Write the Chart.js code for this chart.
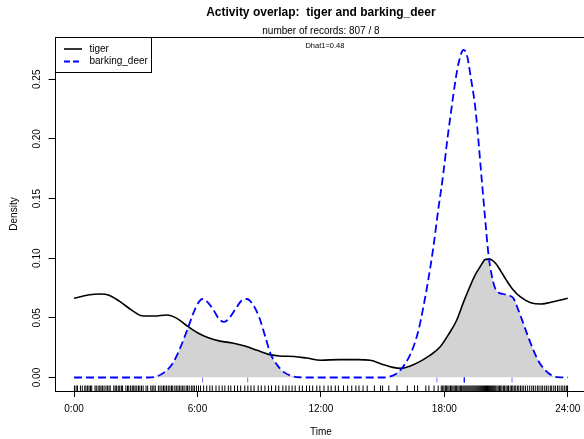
<!DOCTYPE html>
<html>
<head>
<meta charset="utf-8">
<script src="https://cdn.jsdelivr.net/npm/chart.js@4.4.1/dist/chart.umd.min.js"></script>
<style>
  html, body { margin: 0; padding: 0; background: #fff; overflow: hidden; width: 584px; height: 439px; }
  #wrap { position: relative; width: 592px; height: 439px; }
</style>
</head>
<body>
<div id="wrap"><canvas id="c" width="592" height="439"></canvas></div>
<script>
// Kernel density of activity by time of day (hours)
const tigerHours = [0, 0.5, 1.0, 1.3, 1.7, 2.2, 2.8, 3.3, 3.9, 4.5, 5.0, 5.5, 6.0, 6.5, 7.1, 7.7, 8.3, 8.9, 9.5, 10.0,
  10.7, 11.3, 12.0, 12.9, 13.8, 14.4, 15.0, 15.5, 15.9, 16.4, 16.8, 17.3, 17.8, 18.2, 18.6, 18.95, 19.25, 19.5, 19.75, 20.0,
  20.2, 20.5, 20.75, 21.0, 21.3, 21.7, 22.2, 22.7, 23.3, 24.0];
const tigerDensity = [0.0664, 0.0685, 0.0698, 0.0700, 0.0690, 0.0640, 0.0565, 0.0518, 0.0515, 0.0524, 0.0496, 0.0432, 0.0375, 0.0335, 0.0305, 0.0290, 0.0265, 0.0228, 0.0192, 0.0180,
  0.0176, 0.0163, 0.0145, 0.0150, 0.0150, 0.0145, 0.0110, 0.0085, 0.0077, 0.0100, 0.0133, 0.0185, 0.0258, 0.0360, 0.0480, 0.0640, 0.0765, 0.0860, 0.0930, 0.0990,
  0.0992, 0.0955, 0.0890, 0.0820, 0.0745, 0.0675, 0.0627, 0.0616, 0.0635, 0.0664];

const deerHours = [0, 3.6, 4.0, 4.4, 4.8, 5.2, 5.56, 5.9, 6.24, 6.5, 6.8, 7.05, 7.3, 7.55, 7.85, 8.15, 8.4, 8.7, 9.0, 9.3,
  9.55, 9.85, 10.2, 10.6, 11.0, 11.5, 15.0, 15.35, 15.65, 15.95, 16.25, 16.5, 16.75, 16.98, 17.2, 17.47, 17.7, 17.95, 18.15, 18.36,
  18.55, 18.7, 18.93, 19.1, 19.3, 19.5, 19.65, 19.82, 20.0, 20.14, 20.3, 20.47, 20.65, 20.87, 21.1, 21.36, 21.6, 21.84, 22.1, 22.33,
  22.6, 22.9, 23.2, 23.5, 24.0];
const deerDensity = [0, 0, 0.0008, 0.0045, 0.0120, 0.0265, 0.0426, 0.0580, 0.0658, 0.0630, 0.0560, 0.0490, 0.0466, 0.0500, 0.0575, 0.0645, 0.0658, 0.0610, 0.0505, 0.0340,
  0.0200, 0.0110, 0.0045, 0.0012, 0.0002, 0, 0, 0.0008, 0.0030, 0.0080, 0.0160, 0.0258, 0.0400, 0.0590, 0.0800, 0.1096, 0.1400, 0.1710, 0.2000, 0.2270,
  0.2500, 0.2640, 0.2745, 0.2700, 0.2500, 0.2270, 0.2000, 0.1655, 0.1300, 0.1040, 0.0860, 0.0748, 0.0710, 0.0700, 0.0690, 0.0664, 0.0565, 0.0454, 0.0330, 0.0230,
  0.0130, 0.0063, 0.0020, 0.0003, 0];

// Individual record times (hours) shown as rug marks
const tigerRecords = [0.02, 0.1, 0.17, 0.31, 0.4, 0.52, 0.58, 0.66, 0.73, 0.8, 0.86, 1.02, 1.08, 1.17, 1.25, 1.31, 1.38, 1.46, 1.55, 1.62,
  1.7, 1.76, 1.93, 2.0, 2.07, 2.15, 2.22, 2.3, 2.36, 2.52, 2.6, 2.66, 2.75, 2.83, 2.9, 2.97, 3.05, 3.13, 3.2, 3.28,
  3.36, 3.5, 3.58, 3.73, 3.8, 3.88, 3.95, 4.1, 4.18, 4.27, 4.35, 4.42, 4.5, 4.58, 4.66, 4.74, 4.8, 4.9, 4.97, 5.05,
  5.12, 5.2, 5.28, 5.35, 5.45, 5.52, 5.6, 5.7, 5.78, 5.85, 5.95, 6.05, 6.15, 6.3, 6.45, 6.6, 6.72, 6.9, 7.05, 7.2,
  7.33, 7.5, 7.62, 7.8, 7.95, 8.1, 8.3, 8.45, 8.6, 8.75, 8.95, 9.1, 9.28, 9.45, 9.6, 9.8, 9.95, 10.15, 10.3, 10.45,
  10.6, 10.75, 10.95, 11.1, 11.3, 11.45, 11.6, 11.8, 11.95, 12.15, 12.35, 12.5, 12.7, 12.85, 13.1, 13.3, 13.5, 13.7, 13.85, 14.05,
  14.25, 14.6, 14.9, 15.0, 15.3, 15.7, 16.2, 16.55, 16.7, 17.1, 17.25, 17.5, 17.7, 17.85, 17.92, 17.98, 18.05, 18.1, 18.17, 18.23,
  18.3, 18.36, 18.42, 18.48, 18.55, 18.6, 18.66, 18.72, 18.78, 18.83, 18.9, 18.95, 19.0, 19.05, 19.1, 19.15, 19.2, 19.25, 19.3, 19.35,
  19.4, 19.45, 19.5, 19.55, 19.6, 19.65, 19.7, 19.75, 19.8, 19.85, 19.9, 19.95, 20.0, 20.05, 20.1, 20.15, 20.2, 20.25, 20.3, 20.35,
  20.4, 20.45, 20.5, 20.56, 20.62, 20.68, 20.74, 20.8, 20.87, 20.93, 21.0, 21.06, 21.12, 21.2, 21.27, 21.33, 21.4, 21.47, 21.55, 21.62,
  21.7, 21.78, 21.86, 21.95, 22.05, 22.15, 22.25, 22.33, 22.42, 22.52, 22.6, 22.7, 22.78, 22.88, 22.96, 23.05, 23.15, 23.22, 23.32, 23.4,
  23.5, 23.58, 23.68, 23.76, 23.85, 23.93, 23.99];
const deerRecords = [6.25, 8.44, 17.64, 18.97, 18.97, 18.97, 18.97, 21.29];

const xTickValues = [0, 6, 12, 18, 24];
const xTickLabels = ['0:00', '6:00', '12:00', '18:00', '24:00'];
const yTickValues = [0, 0.05, 0.10, 0.15, 0.20, 0.25];
const yTickLabels = ['0.00', '0.05', '0.10', '0.15', '0.20', '0.25'];
const seriesNames = ['tiger', 'barking_deer'];
const titleText = 'Activity overlap:  tiger and barking_deer';
const subtitleText = 'number of records: 807 / 8';
const overlapText = 'Dhat1=0.48';
const xTitle = 'Time';
const yTitle = 'Density';

const FONT = '"Liberation Sans", Arial, Helvetica, sans-serif';
const BLUE = '#0000ff';
const DASH = [8, 4];
Chart.defaults.font.family = FONT;

const toPoints = (xs, ys) => xs.map((x, i) => ({ x, y: ys[i] }));

// Shaded overlap (area under both curves), rug marks, frame, legend and labels
const decorations = {
  id: 'decorations',
  beforeDatasetsDraw(chart) {
    const { ctx, chartArea: a } = chart;
    const y0 = chart.scales.y.getPixelForValue(0);
    const lines = [chart.getDatasetMeta(0).dataset, chart.getDatasetMeta(1).dataset];
    lines.forEach(l => l.updateControlPoints(a, 'x'));
    const area = (line) => {
      const pts = line.points;
      ctx.beginPath();
      line.path(ctx);
      ctx.lineTo(pts[pts.length - 1].x, y0);
      ctx.lineTo(pts[0].x, y0);
      ctx.closePath();
    };
    ctx.save();
    ctx.beginPath();
    ctx.rect(a.left, a.top, a.width, a.height);
    ctx.clip();
    area(lines[0]);
    ctx.clip();
    area(lines[1]);
    ctx.fillStyle = '#d3d3d3';
    ctx.fill();
    ctx.restore();
  },
  afterDatasetsDraw(chart) {
    const { ctx, chartArea: a, scales: { x, y } } = chart;
    const y0 = y.getPixelForValue(0);
    ctx.save();
    ctx.lineWidth = 1;
    ctx.strokeStyle = '#000';
    tigerRecords.forEach(t => {
      const px = x.getPixelForValue(t);
      ctx.beginPath();
      ctx.moveTo(px, a.bottom);
      ctx.lineTo(px, a.bottom - 5.5);
      ctx.stroke();
    });
    ctx.strokeStyle = 'rgba(0,0,255,0.55)';
    deerRecords.forEach(t => {
      const px = x.getPixelForValue(t);
      ctx.beginPath();
      ctx.moveTo(px, y0);
      ctx.lineTo(px, y0 + 5);
      ctx.stroke();
    });
    ctx.restore();
  },
  afterDraw(chart) {
    const { ctx, chartArea: a } = chart;
    const cx = (a.left + a.right) / 2;
    ctx.save();
    // plot frame
    ctx.strokeStyle = '#000';
    ctx.lineWidth = 1;
    ctx.strokeRect(Math.round(a.left) + 0.5, Math.round(a.top) + 0.5, a.width, Math.round(a.bottom) - Math.round(a.top));

    ctx.fillStyle = '#000';
    ctx.textAlign = 'center';
    ctx.textBaseline = 'middle';
    ctx.font = 'bold 12px ' + FONT;
    ctx.fillText(titleText, cx, 12.5);
    ctx.font = '10px ' + FONT;
    ctx.fillText(subtitleText, cx, 31);
    ctx.font = '7.5px ' + FONT;
    ctx.fillText(overlapText, cx + 4, 46);
    ctx.font = '10px ' + FONT;
    ctx.fillText(xTitle, cx, 432);
    ctx.save();
    ctx.translate(14, (a.top + a.bottom) / 2);
    ctx.rotate(-Math.PI / 2);
    ctx.fillText(yTitle, 0, 0);
    ctx.restore();

    // legend
    const lx = Math.round(a.left) + 0.5, ly = Math.round(a.top) + 0.5;
    ctx.fillStyle = '#fff';
    ctx.fillRect(lx, ly, 96, 35);
    ctx.strokeStyle = '#000';
    ctx.strokeRect(lx, ly, 96, 35);
    const rows = [{ y: ly + 11.5, color: '#000', dash: [], w: 1.6 }, { y: ly + 24, color: BLUE, dash: [6, 3], w: 1.8 }];
    rows.forEach((r, i) => {
      ctx.beginPath();
      ctx.setLineDash(r.dash);
      ctx.strokeStyle = r.color;
      ctx.lineWidth = r.w;
      ctx.moveTo(lx + 8.5, r.y);
      ctx.lineTo(lx + 26.5, r.y);
      ctx.stroke();
      ctx.setLineDash([]);
      ctx.fillStyle = '#000';
      ctx.textAlign = 'left';
      ctx.font = '10px ' + FONT;
      ctx.fillText(seriesNames[i], lx + 34, r.y);
    });
    ctx.restore();
  }
};

new Chart(document.getElementById('c'), {
  type: 'line',
  data: {
    datasets: [
      {
        label: seriesNames[0],
        data: toPoints(tigerHours, tigerDensity),
        borderColor: '#000',
        borderWidth: 1.6,
        fill: false,
        cubicInterpolationMode: 'monotone',
        pointRadius: 0,
        order: 1
      },
      {
        label: seriesNames[1],
        data: toPoints(deerHours, deerDensity),
        borderColor: BLUE,
        borderWidth: 1.8,
        borderDash: DASH,
        fill: false,
        cubicInterpolationMode: 'monotone',
        pointRadius: 0,
        order: 0
      }
    ]
  },
  options: {
    responsive: false,
    animation: false,
    devicePixelRatio: 1,
    layout: { padding: { top: 37, right: 4.7, left: 0, bottom: 0 } },
    plugins: { legend: { display: false }, title: { display: false }, tooltip: { enabled: false } },
    elements: { point: { radius: 0 } },
    scales: {
      x: {
        type: 'linear',
        min: -0.95,
        max: 24.95,
        afterFit(s) { s.height = 48; },
        afterBuildTicks(s) { s.ticks = xTickValues.map(v => ({ value: v })); },
        grid: { display: true, drawOnChartArea: false, drawTicks: true, tickLength: 6, color: '#000', lineWidth: 1 },
        border: { display: false },
        ticks: {
          callback: (v, i) => xTickLabels[i],
          font: { size: 10 },
          color: '#000',
          padding: 6,
          maxRotation: 0,
          autoSkip: false
        }
      },
      y: {
        type: 'linear',
        min: -0.0113,
        max: 0.2854,
        afterFit(s) { s.width = 54.5; },
        afterBuildTicks(s) { s.ticks = yTickValues.map(v => ({ value: v })); },
        grid: { display: true, drawOnChartArea: false, drawTicks: true, tickLength: 6, color: '#000', lineWidth: 1 },
        border: { display: false },
        ticks: {
          callback: (v, i) => yTickLabels[i],
          font: { size: 10 },
          color: '#000',
          minRotation: 90,
          maxRotation: 90,
          crossAlign: 'center',
          padding: 1.5,
          autoSkip: false
        }
      }
    }
  },
  plugins: [decorations]
});
</script>
</body>
</html>
